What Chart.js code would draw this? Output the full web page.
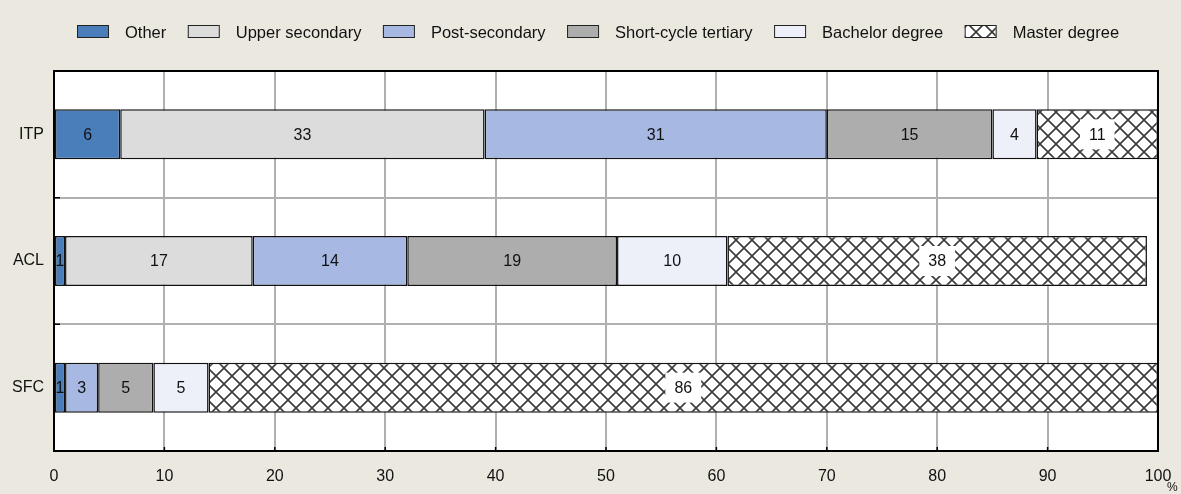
<!DOCTYPE html>
<html>
<head>
<meta charset="utf-8">
<script src="https://cdn.jsdelivr.net/npm/chart.js@4/dist/chart.umd.min.js"></script>
<style>
  html, body { margin: 0; padding: 0; background: #ebe8df; }
  #wrap { width: 1181px; height: 494px; position: relative; }
</style>
</head>
<body>
<div id="wrap"><canvas id="chart"></canvas></div>
<script>
const categories = ["ITP", "ACL", "SFC"];
const other = [6, 1, 1];
const upperSecondary = [33, 17, 0];
const postSecondary = [31, 14, 3];
const shortCycle = [15, 19, 5];
const bachelor = [4, 10, 5];
const master = [11, 38, 86];
const seriesNames = ["Other", "Upper secondary", "Post-secondary", "Short-cycle tertiary", "Bachelor degree", "Master degree"];
const xMin = 0, xMax = 100, xStep = 10;

const FONT = "'Liberation Sans', Arial, sans-serif";

function makeHatch() {
    const c = document.createElement("canvas");
    c.width = 16; c.height = 16;
    const g = c.getContext("2d");
    g.fillStyle = "#fff";
    g.fillRect(0, 0, 16, 16);
    g.strokeStyle = "#3a3a3a";
    g.lineWidth = 1.6;
    g.beginPath();
    g.moveTo(-2, -2); g.lineTo(18, 18);
    g.moveTo(18, -2); g.lineTo(-2, 18);
    g.stroke();
    return g.createPattern(c, "repeat");
}
const hatch = makeHatch();

const fills = ["#4a7ebb", "#dcdcdc", "#a7b9e3", "#adadad", "#edf0f8", hatch];
const seriesData = [other, upperSecondary, postSecondary, shortCycle, bachelor, master];

const datasets = seriesData.map((d, i) => ({
    label: seriesNames[i],
    data: d,
    backgroundColor: fills[i],
    borderColor: "#111",
    borderWidth: 1.5,
    borderSkipped: false,
    barPercentage: 0.395,
    categoryPercentage: 1
}));

const decor = {
    id: "decor",
    beforeDraw(chart) {
        const {ctx, chartArea: a} = chart;
        ctx.save();
        ctx.fillStyle = "#fff";
        ctx.fillRect(a.left, a.top, a.right - a.left, a.bottom - a.top);
        ctx.restore();
    },
    afterDatasetsDraw(chart) {
        const ctx = chart.ctx;
        ctx.save();
        ctx.font = "16px " + FONT;
        ctx.textAlign = "center";
        ctx.textBaseline = "middle";
        chart.data.datasets.forEach((ds, di) => {
            const meta = chart.getDatasetMeta(di);
            meta.data.forEach((bar, j) => {
                const v = ds.data[j];
                if (!v) return;
                const cx = (bar.x + bar.base) / 2;
                const cy = bar.y;
                const txt = String(v);
                if (di === 5) {
                    const w = ctx.measureText(txt).width + 18;
                    ctx.fillStyle = "#fff";
                    ctx.fillRect(cx - w / 2, cy - 15, w, 30);
                }
                ctx.fillStyle = "#111";
                ctx.fillText(txt, cx, cy + 1);
            });
        });
        ctx.restore();
    },
    afterDraw(chart) {
        const {ctx, chartArea: a, scales} = chart;
        ctx.save();
        // frame
        ctx.strokeStyle = "#000";
        ctx.lineWidth = 2;
        ctx.strokeRect(a.left, a.top, a.right - a.left, a.bottom - a.top);
        // inner ticks
        ctx.lineWidth = 1.5;
        ctx.beginPath();
        for (let v = xMin; v <= xMax; v += xStep) {
            const px = scales.x.getPixelForValue(v);
            ctx.moveTo(px, a.bottom);
            ctx.lineTo(px, a.bottom - 4);
        }
        for (let i = 1; i < categories.length; i++) {
            const py = (scales.y.getPixelForValue(i - 1) + scales.y.getPixelForValue(i)) / 2;
            ctx.moveTo(a.left, py);
            ctx.lineTo(a.left + 6, py);
        }
        ctx.stroke();
        // percent sign
        ctx.fillStyle = "#111";
        ctx.font = "12px " + FONT;
        ctx.textAlign = "left";
        ctx.textBaseline = "middle";
        ctx.fillText("%", 1167, 488);
        // legend
        ctx.font = "16.5px " + FONT;
        let x = 77;
        const yBox = 25;
        chart.data.datasets.forEach(ds => {
            ctx.fillStyle = ds.backgroundColor;
            ctx.fillRect(x, yBox, 31, 12);
            ctx.strokeStyle = "#222";
            ctx.lineWidth = 1;
            ctx.strokeRect(x + 0.5, yBox + 0.5, 31, 12);
            x += 31 + 17;
            ctx.fillStyle = "#111";
            ctx.fillText(ds.label, x, yBox + 8);
            x += ctx.measureText(ds.label).width + 21.5;
        });
        ctx.restore();
    }
};

new Chart(document.getElementById("chart"), {
    type: "bar",
    data: {labels: categories, datasets},
    plugins: [decor],
    options: {
        indexAxis: "y",
        responsive: true,
        maintainAspectRatio: false,
        animation: false,
        devicePixelRatio: 1,
        layout: {padding: {left: 0, right: 23, top: 71, bottom: 0}},
        plugins: {legend: {display: false}, tooltip: {enabled: false}},
        scales: {
            x: {
                stacked: true,
                min: xMin,
                max: xMax,
                ticks: {stepSize: xStep, color: "#111", font: {family: FONT, size: 16}, padding: 16, maxRotation: 0},
                grid: {color: "#b0b0b0", lineWidth: 2, drawTicks: false},
                border: {color: "#000", width: 2},
                afterFit(s) { s.height = 43; s.paddingLeft = 0; s.paddingRight = 0; }
            },
            y: {
                stacked: true,
                ticks: {color: "#111", font: {family: FONT, size: 16}, padding: 10},
                grid: {color: "#b0b0b0", lineWidth: 2, drawTicks: false, offset: true},
                border: {color: "#000", width: 2},
                afterFit(s) { s.width = 54; }
            }
        }
    }
});
</script>
</body>
</html>
